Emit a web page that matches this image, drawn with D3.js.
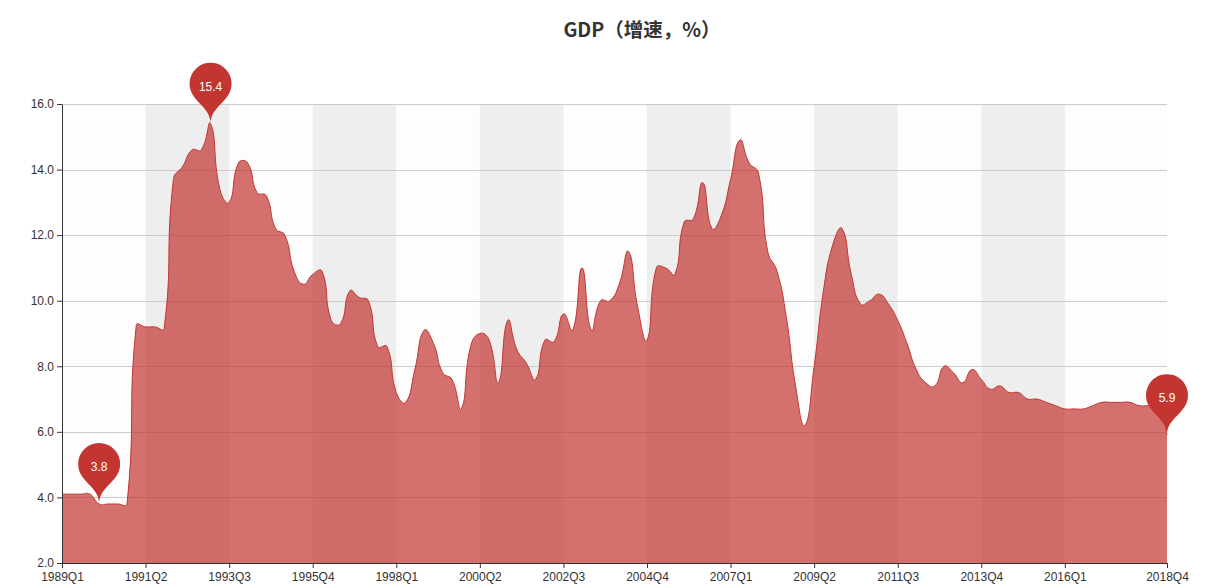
<!DOCTYPE html>
<html>
<head>
<meta charset="utf-8">
<script src="https://cdn.jsdelivr.net/npm/d3@7/dist/d3.min.js"></script>
<style>
  html, body { margin: 0; padding: 0; background: #ffffff; }
  svg { display: block; }
</style>
</head>
<body>
<svg id="chart" width="1208" height="587"></svg>
<script>
// ---------- data ----------
const years = d3.range(1989, 2019);
const quarters = ["Q1", "Q2", "Q3", "Q4"];
const categories = years.flatMap(y => quarters.map(q => y + q));

const gdpGrowth = [
  4.1, 4.1, 4.1, 4.1,
  3.8, 3.8, 3.8, 3.8,
  9.25, 9.2, 9.2, 9.15,
  13.7, 14.1, 14.6, 14.6,
  15.4, 13.4, 13.0, 14.2,
  14.2, 13.3, 13.2, 12.2,
  12.0, 10.9, 10.5, 10.8,
  10.9, 9.4, 9.3, 10.3,
  10.1, 10.0, 8.6, 8.6,
  7.2, 6.9, 7.9, 9.1,
  8.7, 7.8, 7.6, 6.7,
  8.6, 9.0, 8.8, 7.5,
  9.4, 8.5, 8.1, 7.6,
  8.8, 8.75, 9.6, 9.1,
  11.0, 9.1, 10.0, 10.0,
  10.5, 11.5, 9.8, 8.8,
  11.0, 11.0, 10.8, 12.4,
  12.5, 13.6, 12.2, 12.6,
  13.7, 14.9, 14.2, 13.9,
  11.5, 10.9, 9.5, 7.4,
  6.2, 8.0, 10.3, 11.7,
  12.2, 10.8, 9.9, 10.0,
  10.2, 9.9, 9.4, 8.7,
  7.9, 7.5, 7.4, 8.0,
  7.8, 7.5, 7.9, 7.6,
  7.3, 7.4, 7.2, 7.2,
  7.0, 7.0, 6.9, 6.8,
  6.7, 6.7, 6.7, 6.8,
  6.9, 6.9, 6.9, 6.9,
  6.8, 6.8, 6.8, 5.9
];

const xTickLabels = ["1989Q1", "1991Q2", "1993Q3", "1995Q4", "1998Q1", "2000Q2",
  "2002Q3", "2004Q4", "2007Q1", "2009Q2", "2011Q3", "2013Q4", "2016Q1", "2018Q4"];
const yTickValues = [2, 4, 6, 8, 10, 12, 14, 16];
const titleText = "GDP（增速，%）";

// ---------- layout ----------
const margin = { left: 62, right: 1167, top: 104, bottom: 563 };
const svg = d3.select("#chart");
const mainColor = "#c23531";
const labelFont = "'Liberation Sans', Arial, sans-serif";

const x = d3.scalePoint().domain(categories).range([margin.left, margin.right]);
const y = d3.scaleLinear().domain([2, 16]).range([margin.bottom, margin.top]);

const data = categories.map((c, i) => ({ c, v: gdpGrowth[i] }));

// ---------- ECharts-like smooth curve ----------
function EChartsSmooth(context) { this._context = context; }
EChartsSmooth.prototype = {
  areaStart() { this._line = 0; },
  areaEnd() { this._line = NaN; },
  lineStart() { this._pts = []; },
  point(px, py) { this._pts.push([+px, +py]); },
  lineEnd() {
    const p = this._pts, c = this._context, s = 0.5;
    if (p.length) {
      if (this._line) c.lineTo(p[0][0], p[0][1]); else c.moveTo(p[0][0], p[0][1]);
      let cpx0 = p[0][0], cpy0 = p[0][1];
      for (let i = 1; i < p.length; i++) {
        const [cx, cy] = p[i], [px, py] = p[i - 1];
        let cpx1 = cx, cpy1 = cy, vx = 0, vy = 0, ratio = 0.5;
        if (i + 1 < p.length) {
          const [nx, ny] = p[i + 1];
          vx = nx - px; vy = ny - py;
          const l0 = Math.hypot(cx - px, cy - py), l1 = Math.hypot(nx - cx, ny - cy);
          ratio = (l0 + l1) > 0 ? l1 / (l0 + l1) : 0.5;
          cpx1 = cx - vx * s * (1 - ratio);
          cpy1 = cy - vy * s * (1 - ratio);
        }
        c.bezierCurveTo(cpx0, cpy0, cpx1, cpy1, cx, cy);
        cpx0 = cx + vx * s * ratio;
        cpy0 = cy + vy * s * ratio;
      }
    }
    if (this._line || (this._line !== 0 && p.length === 1)) c.closePath();
    this._line = 1 - this._line;
  }
};
const curveECharts = ctx => new EChartsSmooth(ctx);

// ---------- split areas (vertical bands) ----------
const bandG = svg.append("g");
for (let k = 0; k < xTickLabels.length - 1; k++) {
  const x0 = x(xTickLabels[k]), x1 = x(xTickLabels[k + 1]);
  bandG.append("rect")
    .attr("x", x0).attr("y", margin.top)
    .attr("width", x1 - x0).attr("height", margin.bottom - margin.top)
    .attr("fill", k % 2 === 0 ? "rgba(250,250,250,0.3)" : "rgba(200,200,200,0.3)");
}

// ---------- horizontal grid lines ----------
svg.append("g").selectAll("line")
  .data(yTickValues.filter(v => v !== 2))
  .join("line")
  .attr("x1", margin.left).attr("x2", margin.right)
  .attr("y1", d => Math.round(y(d)) + 0.5).attr("y2", d => Math.round(y(d)) + 0.5)
  .attr("stroke", "#cccccc").attr("stroke-width", 1);

// ---------- area + line ----------
const area = d3.area()
  .x(d => x(d.c)).y0(y(2)).y1(d => y(d.v))
  .curve(curveECharts);
const line = d3.line()
  .x(d => x(d.c)).y(d => y(d.v))
  .curve(curveECharts);

svg.append("path").datum(data)
  .attr("d", area)
  .attr("fill", mainColor).attr("fill-opacity", 0.7);
svg.append("path").datum(data)
  .attr("d", line)
  .attr("fill", "none").attr("stroke", mainColor).attr("stroke-width", 1);

// ---------- axes ----------
const yAxis = d3.axisLeft(y).tickValues(yTickValues).tickFormat(d3.format(".1f"))
  .tickSize(5).tickSizeOuter(0).tickPadding(3);
const yG = svg.append("g").attr("transform", `translate(${margin.left},0)`).call(yAxis);

const xAxis = d3.axisBottom(x).tickValues(xTickLabels)
  .tickSize(5).tickSizeOuter(0).tickPadding(4);
const xG = svg.append("g").attr("transform", `translate(0,${margin.bottom})`).call(xAxis);

[yG, xG].forEach(g => {
  g.select(".domain").attr("stroke", "#333333");
  g.selectAll(".tick line").attr("stroke", "#333333");
  g.selectAll(".tick text")
    .attr("fill", "#333333")
    .style("font-family", labelFont)
    .style("font-size", "12px");
});
yG.selectAll(".tick text").attr("dy", "0.32em");

// ---------- mark points (pins) ----------
function pinPath(px, py, size) {
  const w = size * 3 / 5, h = Math.max(w, size), r = w / 2;
  const dy = r * r / (h - r);
  const cy = py - h + r + dy;
  const angle = Math.asin(dy / r);
  const dx = Math.cos(angle) * r;
  const tanX = Math.sin(angle), tanY = Math.cos(angle);
  const cpLen = r * 0.6, cpLen2 = r * 0.7;
  const p = d3.path();
  p.moveTo(px - dx, cy + dy);
  p.arc(px, cy, r, Math.PI - angle, Math.PI * 2 + angle);
  p.bezierCurveTo(px + dx - tanX * cpLen, cy + dy + tanY * cpLen, px, py - cpLen2, px, py);
  p.bezierCurveTo(px, py - cpLen2, px - dx + tanX * cpLen, cy + dy + tanY * cpLen, px - dx, cy + dy);
  p.closePath();
  return p.toString();
}

const markIdx = [d3.maxIndex(gdpGrowth), d3.minIndex(gdpGrowth), gdpGrowth.length - 1];
const markG = svg.append("g");
markIdx.forEach(i => {
  const d = data[i];
  const px = x(d.c), py = y(d.v);
  markG.append("path").attr("d", pinPath(px, py, 70)).attr("fill", mainColor);
  markG.append("text")
    .attr("x", px).attr("y", py - 37)
    .attr("text-anchor", "middle").attr("dominant-baseline", "central")
    .attr("fill", "#ffffff")
    .style("font-family", labelFont)
    .style("font-size", "12px")
    .text(d.v.toFixed(1));
});

// ---------- title ----------
svg.append("text")
  .attr("x", 642).attr("y", 37)
  .attr("text-anchor", "middle")
  .attr("fill", "#333333")
  .style("font-family", "'Noto Sans CJK SC', 'Noto Sans', sans-serif")
  .style("font-size", "19.5px")
  .style("font-weight", "bold")
  .text(titleText);
</script>
</body>
</html>
